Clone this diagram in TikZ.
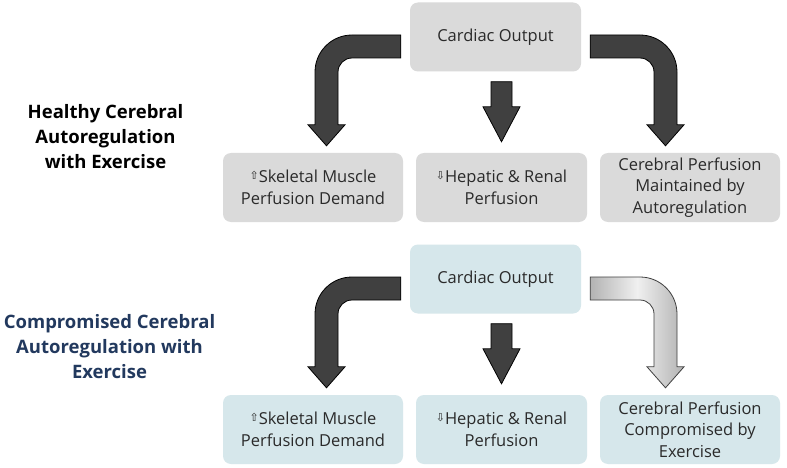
\documentclass[tikz,border=0pt]{standalone}
\usepackage{fontspec}
\setmainfont{Open Sans}
\newfontfamily\symfont{DejaVu Sans}
\usetikzlibrary{calc}
\definecolor{boxgray}{HTML}{DADADA}
\definecolor{boxblue}{HTML}{D6E7EB}
\definecolor{arrowgray}{HTML}{404040}
\definecolor{txt}{HTML}{2A2A2A}
\definecolor{navy}{HTML}{22395E}
\newcommand\upmark{\raisebox{3pt}{\symfont\fontsize{11}{11}\selectfont ⇧}}
\newcommand\downmark{\raisebox{3pt}{\symfont\fontsize{11}{11}\selectfont ⇩}}
\newcommand\bendleft[3]{%
 \path[#3] let \p1=(#1.west), \p2=(#2.north) in
  ({\x1-9pt},{\y1+2pt}) -- ({\x2+39pt},{\y1+2pt}) arc[start angle=90,end angle=180,radius=37pt]
  -- ({\x2+2pt},{\y2+28pt}) -- ({\x2-5pt},{\y2+28pt}) -- ({\x2+13.5pt},{\y2+7pt})
  -- ({\x2+32pt},{\y2+28pt}) -- ({\x2+25pt},{\y2+28pt})
  -- ({\x2+25pt},{\y1-35pt}) arc[start angle=180,end angle=90,radius=14pt]
  -- ({\x1-9pt},{\y1-21pt}) -- cycle;}
\newcommand\bendright[3]{%
 \path[#3] let \p1=(#1.east), \p2=(#2.north) in
  ({\x1+9pt},{\y1+2pt}) -- ({\x2-50pt},{\y1+2pt}) arc[start angle=90,end angle=0,radius=37pt]
  -- ({\x2-13pt},{\y2+28pt}) -- ({\x2-6pt},{\y2+28pt}) -- ({\x2-24.5pt},{\y2+7pt})
  -- ({\x2-43pt},{\y2+28pt}) -- ({\x2-36pt},{\y2+28pt})
  -- ({\x2-36pt},{\y1-35pt}) arc[start angle=0,end angle=90,radius=14pt]
  -- ({\x1+9pt},{\y1-21pt}) -- cycle;}
\newcommand\arrowdown[3]{%
 \path[#3] let \p1=(#1.south), \p2=(#2.north) in
  ({\x2-10.5pt},{\y1-10pt}) -- ({\x2+10.5pt},{\y1-10pt}) -- ({\x2+10.5pt},{\y2+46pt})
  -- ({\x2+18.5pt},{\y2+46pt}) -- ({\x2},{\y2+11pt}) -- ({\x2-18.5pt},{\y2+46pt})
  -- ({\x2-10.5pt},{\y2+46pt}) -- cycle;}
\tikzset{
 box/.style={rounded corners=8pt, minimum height=69pt, inner sep=0pt, align=center,
   text=txt, font=\fontsize{16.5}{21.5}\selectfont},
 graybox/.style={box, fill=boxgray},
 bluebox/.style={box, fill=boxblue},
 darkarrow/.style={fill=arrowgray, draw=black, line width=0.8pt, line join=miter},
 lightarrow/.style={left color=gray!60, right color=gray!60, middle color=gray!12,
   draw=black!75, line width=0.8pt, line join=miter},
 sidelabel/.style={align=center, font=\bfseries\fontsize{18.5}{25}\selectfont},
}
\begin{document}
\begin{tikzpicture}[x=1pt,y=1pt]
\fill[white] (0,0) rectangle (787,-468);
\useasboundingbox (0,0) rectangle (787,-468);
% top section
\node[graybox, minimum width=171pt] (co) at (495.5,-37) {Cardiac Output};
\node[graybox, minimum width=180pt] (sk) at (313,-187.5) {\upmark Skeletal Muscle\\Perfusion Demand};
\node[graybox, minimum width=171pt] (hep) at (501.5,-187.5) {\downmark Hepatic \& Renal\\Perfusion};
\node[graybox, minimum width=180pt] (cer) at (690,-187.5) {Cerebral Perfusion\\Maintained by\\Autoregulation};
\node[sidelabel, text=black] (hl) at (105.5,-137) {Healthy Cerebral\\Autoregulation\\with Exercise};
\bendleft{co}{sk}{darkarrow}
\arrowdown{co}{hep}{darkarrow}
\bendright{co}{cer}{darkarrow}
% bottom section
\node[bluebox, minimum width=171pt] (co2) at (495.5,-279) {Cardiac Output};
\node[bluebox, minimum width=180pt] (sk2) at (313,-429.5) {\upmark Skeletal Muscle\\Perfusion Demand};
\node[bluebox, minimum width=171pt] (hep2) at (501.5,-429.5) {\downmark Hepatic \& Renal\\Perfusion};
\node[bluebox, minimum width=180pt] (cer2) at (690,-429.5) {Cerebral Perfusion\\Compromised by\\Exercise};
\node[sidelabel, text=navy] (cl) at (109.5,-347) {Compromised Cerebral\\Autoregulation with\\Exercise};
\bendleft{co2}{sk2}{darkarrow}
\arrowdown{co2}{hep2}{darkarrow}
\bendright{co2}{cer2}{lightarrow}
\end{tikzpicture}
\end{document}
